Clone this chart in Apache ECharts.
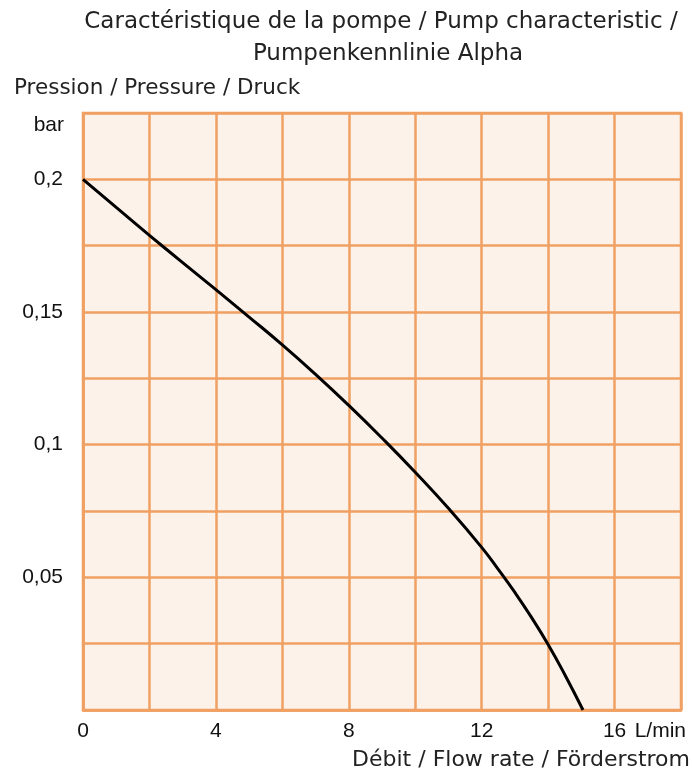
<!DOCTYPE html>
<html>
<head>
<meta charset="utf-8">
<script src="https://cdn.jsdelivr.net/npm/echarts@6/dist/echarts.min.js"></script>
<style>
  html, body { margin: 0; padding: 0; background: #fff; }
  #chart { width: 694px; height: 773px; }
</style>
</head>
<body>
<div id="chart"></div>
<script>
// flow rate (L/min) vs pressure (bar)
const flow = [0, 1, 2, 3, 4, 5, 6, 7, 8, 9, 10, 11, 12, 12.5, 13, 13.5, 14, 14.5, 15.05];
const pressure = [0.2, 0.1894, 0.1789, 0.1686, 0.1584, 0.1481, 0.1376, 0.1265, 0.1148, 0.1025, 0.0896, 0.076, 0.0613, 0.053, 0.0443, 0.0349, 0.0247, 0.0134, 0];
const xTickLabels = [0, 4, 8, 12, 16];
const yTickLabels = [0.05, 0.1, 0.15, 0.2];

const titleFont = "'DejaVu Sans', sans-serif";
const tickFont = "'Liberation Sans', Arial, sans-serif";
const grid = '#f0a062';

const chart = echarts.init(document.getElementById('chart'));

const option = {
  backgroundColor: '#fff',
  animation: false,
  grid: { left: 83, right: 13, top: 113, bottom: 63, show: true, backgroundColor: '#fdf2ea', borderWidth: 0 },
  xAxis: {
    type: 'value', min: 0, max: 18, interval: 2,
    axisLine: { show: true, lineStyle: { color: grid, width: 2.5 } },
    axisTick: { show: false },
    splitLine: { show: true, lineStyle: { color: grid, width: 2.5 } },
    axisLabel: {
      color: '#111', fontFamily: tickFont, fontSize: 21, margin: 11,
      formatter: v => xTickLabels.includes(v) ? String(v) : ''
    }
  },
  yAxis: {
    type: 'value', min: 0, max: 0.225, interval: 0.025,
    axisLine: { show: true, lineStyle: { color: grid, width: 2.5 } },
    axisTick: { show: false },
    splitLine: { show: true, lineStyle: { color: grid, width: 2.5 } },
    axisLabel: {
      color: '#111', fontFamily: tickFont, fontSize: 21, margin: 20,
      formatter: v => {
        const r = Math.round(v * 1000) / 1000;
        return yTickLabels.includes(r) ? String(r).replace('.', ',') : '';
      }
    }
  },
  graphic: [
    { type: 'rect', shape: { x: 83, y: 113, width: 598, height: 597 }, style: { fill: 'none', stroke: grid, lineWidth: 2.5 }, z: 3 },
    { type: 'text', x: 381, y: 22, style: { text: 'Caractéristique de la pompe / Pump characteristic /', font: '23px ' + titleFont, fill: '#222', align: 'center', verticalAlign: 'middle' } },
    { type: 'text', x: 388, y: 54, style: { text: 'Pumpenkennlinie Alpha', font: '23px ' + titleFont, fill: '#222', align: 'center', verticalAlign: 'middle' } },
    { type: 'text', x: 14, y: 88, style: { text: 'Pression / Pressure / Druck', font: '21.5px ' + titleFont, fill: '#222', align: 'left', verticalAlign: 'middle' } },
    { type: 'text', x: 64, y: 125, style: { text: 'bar', font: '21px ' + tickFont, fill: '#111', align: 'right', verticalAlign: 'middle' } },
    { type: 'text', x: 686, y: 731, style: { text: 'L/min', font: '21px ' + tickFont, fill: '#111', align: 'right', verticalAlign: 'middle' } },
    { type: 'text', x: 690, y: 760, style: { text: 'Débit / Flow rate / Förderstrom', font: '22px ' + titleFont, fill: '#222', align: 'right', verticalAlign: 'middle' } }
  ],
  series: [{
    type: 'line',
    data: flow.map((x, i) => [x, pressure[i]]),
    smooth: 0.5,
    symbol: 'none',
    lineStyle: { color: '#000', width: 3 },
    z: 5
  }]
};

chart.setOption(option);
</script>
</body>
</html>
